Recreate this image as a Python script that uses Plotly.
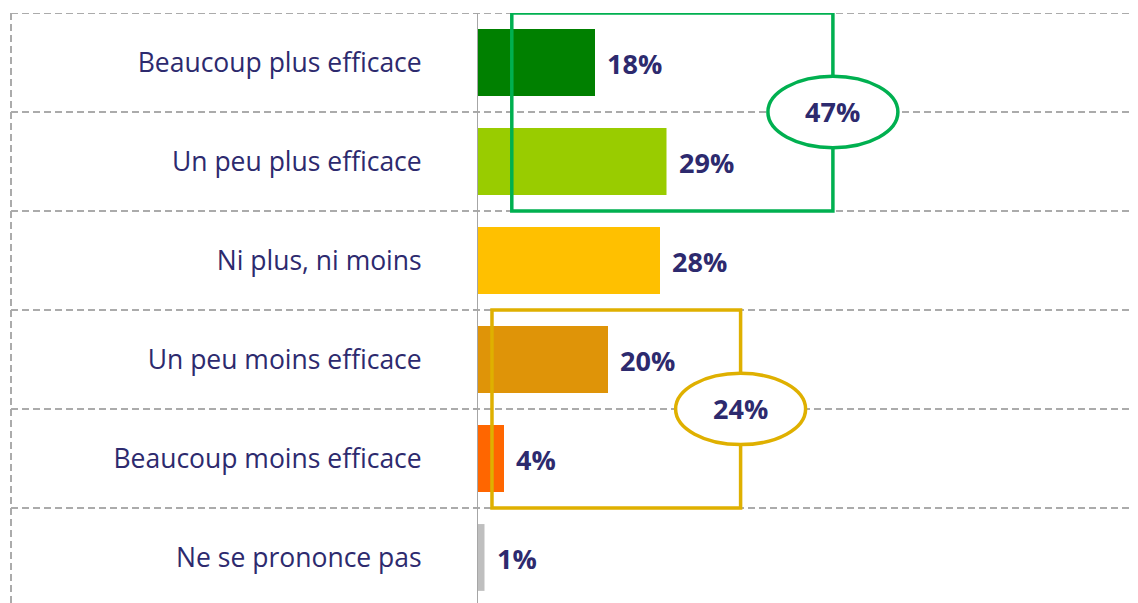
import plotly.graph_objects as go

categories = ["Beaucoup plus efficace", "Un peu plus efficace", "Ni plus, ni moins",
              "Un peu moins efficace", "Beaucoup moins efficace", "Ne se prononce pas"]
values = [18, 29, 28, 20, 4, 1]
value_labels = ["18%", "29%", "28%", "20%", "4%", "1%"]
bar_colors = ["#008000", "#99CC00", "#FFC000", "#DF9408", "#FF6600", "#BFBFBF"]
group_labels = ["47%", "24%"]
group_rows = [(0, 1), (3, 4)]
group_colors = ["#00B050", "#DFB000"]

TEXT = "#2D2A6E"
FONT = "Open Sans"
GRID = "#ABABAB"

BODY = 8  # default page margin of the browser
W, H = 1138 - BODY, 603 - BODY
ML = 478 - BODY
PX_PER_UNIT = 6.5
xmax = (W - ML) / PX_PER_UNIT

ypos = list(range(len(categories)))

fig = go.Figure()
fig.add_trace(go.Bar(
    y=ypos, x=values, orientation="h", width=0.675,
    marker=dict(color=bar_colors, line=dict(width=0)),
    hoverinfo="skip",
))

left_paper = (11 - 478) / (W - ML)
ybottom = 5.46

shapes = []
for b in [i - 0.5 for i in range(len(categories))]:
    shapes.append(dict(type="line", xref="paper", yref="y", x0=left_paper, x1=1, y0=b, y1=b,
                       line=dict(color=GRID, width=2, dash="7px,4px"), layer="below"))
shapes.append(dict(type="line", xref="paper", yref="y", x0=left_paper, x1=left_paper, y0=-0.5, y1=ybottom,
                   line=dict(color=GRID, width=2, dash="7px,4px"), layer="below"))

box_x0 = [5.2, 2.15]
box_x1 = [54.6, 40.4]
annotations = []
for (r0, r1), lab, col, bx0, bx1 in zip(group_rows, group_labels, group_colors, box_x0, box_x1):
    shapes.append(dict(type="rect", xref="x", yref="y", x0=bx0, x1=bx1, y0=r0 - 0.5, y1=r1 + 0.5,
                       line=dict(color=col, width=3.5), fillcolor="rgba(0,0,0,0)", layer="above"))
    cy = (r0 + r1) / 2
    shapes.append(dict(type="circle", xref="x", yref="y", x0=bx1 - 10, x1=bx1 + 10,
                       y0=cy - 0.36, y1=cy + 0.36,
                       line=dict(color=col, width=3.5), fillcolor="white", layer="above"))
    annotations.append(dict(x=bx1, y=cy, xref="x", yref="y", text=lab, showarrow=False,
                            font=dict(family=FONT, size=27, color=TEXT, weight="bold"),
                            xanchor="center", yanchor="middle"))

for y, v, lab in zip(ypos, values, value_labels):
    annotations.append(dict(x=v, y=y, xref="x", yref="y", text=lab, showarrow=False,
                            xanchor="left", yanchor="middle", xshift=10, yshift=-1,
                            font=dict(family=FONT, size=27, color=TEXT, weight="bold")))

fig.update_layout(
    width=W, height=H,
    margin=dict(l=ML, r=0, t=13 - BODY, b=0),
    paper_bgcolor="white", plot_bgcolor="white",
    showlegend=False,
    shapes=shapes, annotations=annotations,
    xaxis=dict(range=[0, xmax], visible=False, fixedrange=True),
    yaxis=dict(range=[ybottom, -0.5], tickvals=ypos, ticktext=categories,
               showgrid=False, zeroline=False, showline=True, linecolor="#A6A6A6", linewidth=1,
               ticks="", ticklabelstandoff=50,
               tickfont=dict(family=FONT, size=26.5, color=TEXT),
               minor=dict(tickvals=[i - 0.5 for i in range(len(categories))], ticks="outside",
                          ticklen=4, tickcolor="#A6A6A6", showgrid=False)),
    bargap=0.3,
)

fig.write_html("out.html")
